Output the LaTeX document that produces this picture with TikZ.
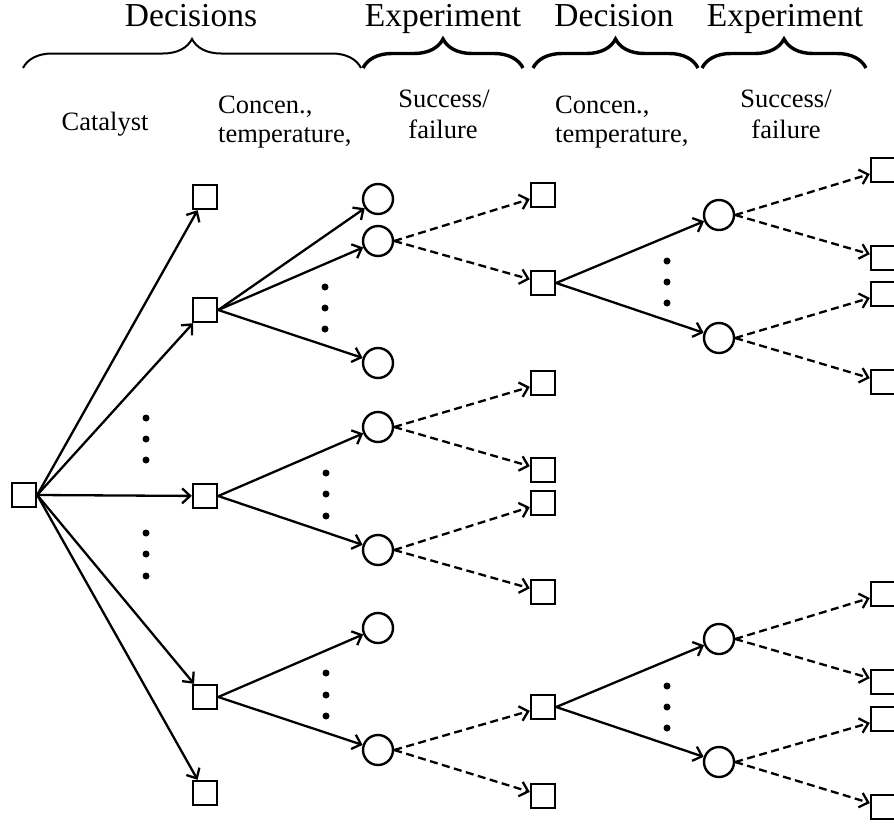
\documentclass[tikz,border=0pt]{standalone}
\usepackage{fontspec}
\setmainfont{Liberation Serif}
\usetikzlibrary{arrows.meta,decorations.pathreplacing}
\begin{document}
\begin{tikzpicture}[x=1pt,y=1pt,
  sq/.style={draw,line width=2.4pt,minimum size=24pt,inner sep=0pt},
  ch/.style={draw,circle,line width=2.4pt,minimum size=30pt,inner sep=0pt},
  sol/.style={line width=2.3pt,-{Straight Barb[length=8pt,width=15pt,line width=2.3pt]}},
  dsh/.style={sol,dash pattern=on 8pt off 4.5pt},
  dt/.style={fill,circle,inner sep=0pt,minimum size=7pt},
  hd/.style={font=\fontsize{33.5}{36}\selectfont,inner sep=0pt,anchor=base},
  sb/.style={font=\fontsize{26.5}{29}\selectfont,inner sep=0pt},
  brc/.style={decorate,decoration={brace,amplitude=29pt}}
]
\useasboundingbox (0,0) rectangle (894,-825);
% headers
\node[hd] (h1) at (191,-26) {Decisions};
\node[hd] (h2) at (443,-26) {Experiment};
\node[hd] (h3) at (614,-26) {Decision};
\node[hd] (h4) at (785,-26) {Experiment};
% braces
\draw[brc,line width=2pt] (23,-68) -- (361,-68);
\draw[brc,line width=3.4pt] (363,-68) -- (523,-68);
\draw[brc,line width=3.4pt] (533,-68) -- (698,-68);
\draw[brc,line width=3.4pt] (702,-68) -- (866,-68);
% sub labels
\node[sb,anchor=base] (l1) at (105,-130) {Catalyst};
\node[sb,anchor=base west] (l2a) at (218,-113) {Concen.,};
\node[sb,anchor=base west] (l2b) at (218,-142) {temperature,};
\node[sb,anchor=base] (l3a) at (444,-107) {Success/};
\node[sb,anchor=base] (l3b) at (443,-138) {failure};
\node[sb,anchor=base west] (l4a) at (555,-113) {Concen.,};
\node[sb,anchor=base west] (l4b) at (555,-142) {temperature,};
\node[sb,anchor=base] (l5a) at (786,-107) {Success/};
\node[sb,anchor=base] (l5b) at (786,-138) {failure};
% nodes
\node[sq] (r) at (24,-495) {};
\node[sq] (a1) at (205,-197) {};
\node[sq] (a2) at (205,-310) {};
\node[sq] (a3) at (205,-496) {};
\node[sq] (a4) at (205,-697) {};
\node[sq] (a5) at (205,-793) {};
\node[ch] (c1) at (378,-199) {};
\node[ch] (c2) at (378,-241) {};
\node[ch] (c3) at (378,-363) {};
\node[ch] (c4) at (378,-427) {};
\node[ch] (c5) at (378,-550) {};
\node[ch] (c6) at (378,-628) {};
\node[ch] (c7) at (378,-750) {};
\node[sq] (s1) at (543,-195) {};
\node[sq] (s2) at (543,-283) {};
\node[sq] (s3) at (543,-383) {};
\node[sq] (s4) at (543,-470) {};
\node[sq] (s5) at (543,-503) {};
\node[sq] (s6) at (543,-592) {};
\node[sq] (s7) at (543,-707) {};
\node[sq] (s8) at (543,-796) {};
\node[ch] (d1) at (719,-215) {};
\node[ch] (d2) at (719,-338) {};
\node[ch] (d3) at (719,-639) {};
\node[ch] (d4) at (719,-762) {};
\node[sq] (t1) at (883,-170) {};
\node[sq] (t2) at (883,-258) {};
\node[sq] (t3) at (883,-294) {};
\node[sq] (t4) at (883,-382) {};
\node[sq] (t5) at (883,-594) {};
\node[sq] (t6) at (883,-682) {};
\node[sq] (t7) at (883,-719) {};
\node[sq] (t8) at (883,-807) {};
% dots
\foreach \n/\x/\y in {p1/146/-418,p2/146/-439,p3/146/-460,p4/146/-533,p5/146/-554,p6/146/-576,
  p7/325/-287,p8/325/-308,p9/325/-329,p10/326/-473,p11/326/-494,p12/326/-516,
  p13/326/-673,p14/326/-695,p15/326/-716,p16/667/-261,p17/667/-282,p18/667/-303,
  p19/667/-686,p20/667/-707,p21/667/-728}
  \node[dt] (\n) at (\x,\y) {};
% solid edges
\foreach \t in {a1,a2,a3,a4,a5} \draw[sol] (r.east) -- (\t);
\foreach \t in {c1,c2,c3} \draw[sol] (a2.east) -- (\t);
\foreach \t in {c4,c5} \draw[sol] (a3.east) -- (\t);
\foreach \t in {c6,c7} \draw[sol] (a4.east) -- (\t);
\foreach \t in {d1,d2} \draw[sol] (s2.east) -- (\t);
\foreach \t in {d3,d4} \draw[sol] (s7.east) -- (\t);
% dashed edges
\foreach \f/\t in {c2/s1,c2/s2,c4/s3,c4/s4,c5/s5,c5/s6,c7/s7,c7/s8,
  d1/t1,d1/t2,d2/t3,d2/t4,d3/t5,d3/t6,d4/t7,d4/t8}
  \draw[dsh] (\f.east) -- (\t);
\end{tikzpicture}
\end{document}
